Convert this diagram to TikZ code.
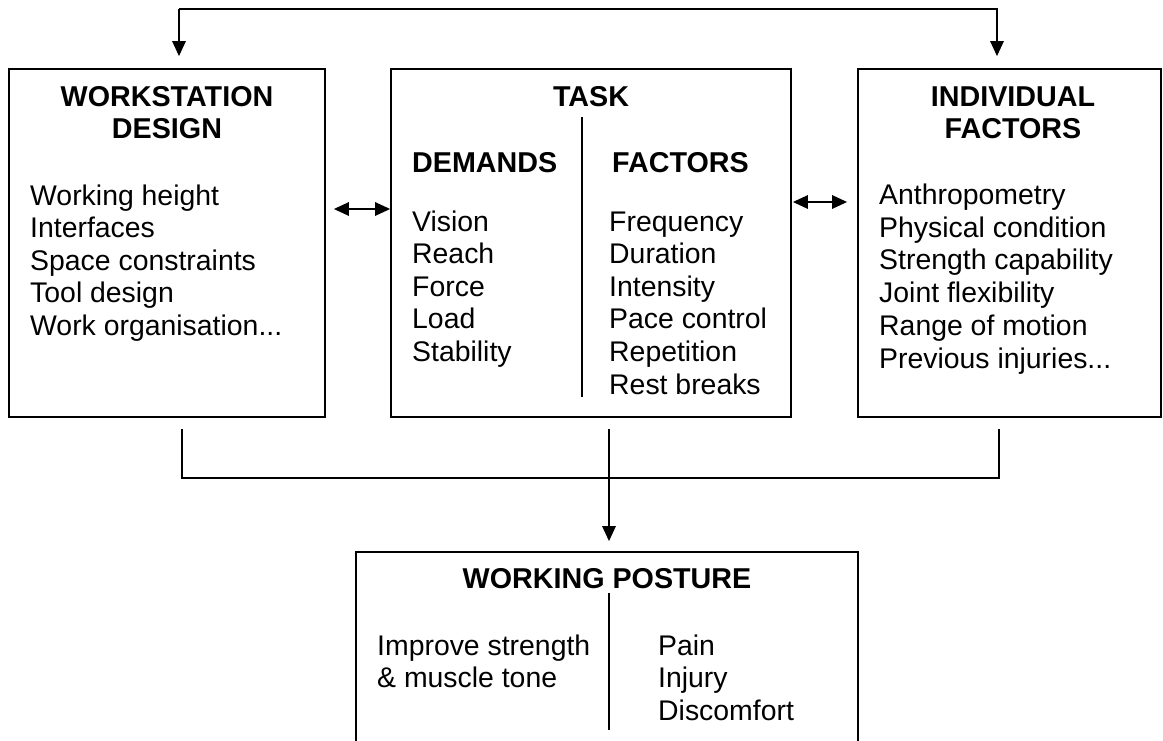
\documentclass[tikz,border=0pt]{standalone}
\usepackage{fontspec}
\setmainfont{Liberation Sans}
\usetikzlibrary{arrows.meta,calc}

\def\threedots{...}

\tikzset{
	box/.style={draw, line width=1.8pt, inner sep=0pt},
	head/.style={font=\fontsize{28.7}{32.5}\selectfont\bfseries, anchor=base, inner sep=0pt},
	item/.style={font=\fontsize{28.4}{32.5}\selectfont, anchor=base west, inner sep=0pt},
	link/.style={line width=1.5pt},
	tip/.style={-{Triangle[length=15pt,width=13.5pt]}},
	dbl/.style={{Triangle[length=15pt,width=13.5pt]}-{Triangle[length=15pt,width=13.5pt]}},
}

\begin{document}
\begin{tikzpicture}[x=1pt, y=-1pt]
			%%%%% START %%%%%
			\useasboundingbox (0,0) rectangle (1163,740);
			
			% the three boxes on top
			\node[box, minimum width=316pt, minimum height=348pt] (ws) at (167, 243) {};
			\node[box, minimum width=400pt, minimum height=348pt] (task) at (591, 243) {};
			\node[box, minimum width=303pt, minimum height=348pt] (ind) at (1009.5, 243) {};
			
			% posture box, cut off by the page
			\node[box, minimum width=502pt, minimum height=208pt] (pos) at (607, 656) {};
			
			% workstation design
			\node[head] (wshead) at (167, 106) {WORKSTATION};
			\node[head] (wsheadb) at (167, 138) {DESIGN};
			\foreach \t [count=\i from 0] in {Working height, Interfaces, Space constraints, Tool design, Work organisation\threedots}
				\node[item] (wsitem\i) at (30, {205+32.5*\i}) {\t};
			
			% task
			\node[head] (taskhead) at (591, 106) {TASK};
			\draw[link] (582, 117) -- (582, 397);
			\node[head, anchor=base west] (demhead) at (412, 172) {DEMANDS};
			\node[head, anchor=base west] (fachead) at (612, 172) {FACTORS};
			\foreach \t [count=\i from 0] in {Vision, Reach, Force, Load, Stability}
				\node[item] (demitem\i) at (412, {231+32.6*\i}) {\t};
			\foreach \t [count=\i from 0] in {Frequency, Duration, Intensity, Pace control, Repetition, Rest breaks}
				\node[item] (facitem\i) at (609, {231+32.6*\i}) {\t};
			
			% individual factors
			\node[head] (indhead) at (1013, 106) {INDIVIDUAL};
			\node[head] (indheadb) at (1013, 138) {FACTORS};
			\foreach \t [count=\i from 0] in {Anthropometry, Physical condition, Strength capability, Joint flexibility, Range of motion, Previous injuries\threedots}
				\node[item] (inditem\i) at (879, {204.5+32.7*\i}) {\t};
			
			% working posture
			\node[head] (poshead) at (607, 588) {WORKING POSTURE};
			\draw[link] (609, 593) -- (609, 730);
			\node[item] (positem0) at (377, 655) {Improve strength};
			\node[item] (positem1) at (377, 687.5) {\& muscle tone};
			\node[item] (effitem0) at (658, 655) {Pain};
			\node[item] (effitem1) at (658, 687.5) {Injury};
			\node[item] (effitem2) at (658, 720) {Discomfort};
			
			% feedback on top
			\coordinate (wstop) at ([shift={(12pt,12pt)}]ws.north);
			\coordinate (indtop) at ([shift={(-12.5pt,12pt)}]ind.north);
			\coordinate (rail) at ($(wstop)+(0,-47)$);
			\draw[link, tip] (rail) -- (wstop);
			\draw[link, tip] (rail) -| (indtop);
			
			% side links
			\draw[link, dbl] ([shift={(8pt,34pt)}]ws.east) -- ([yshift=34pt]task.west);
			\draw[link, dbl] ([shift={(1pt,41pt)}]task.east) -- ([shift={(-10pt,41pt)}]ind.west);
			
			% down to posture
			\coordinate (wsdrop) at ([shift={(15pt,-11pt)}]ws.south);
			\coordinate (taskdrop) at ([shift={(18pt,-11pt)}]task.south);
			\coordinate (inddrop) at ([shift={(-10.5pt,-11pt)}]ind.south);
			\draw[link] (wsdrop) -- ++(0, 49) -| (inddrop);
			\draw[link, tip] (taskdrop) -- ($(taskdrop |- pos.north)+(0,-10)$);
			
			%%%%% END %%%%%
\end{tikzpicture}
\end{document}
